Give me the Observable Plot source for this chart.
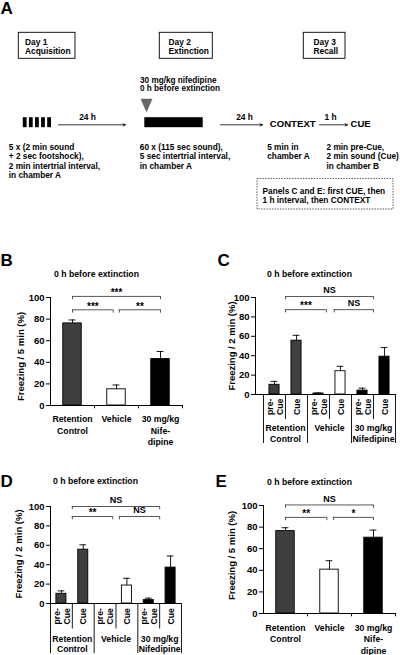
<!DOCTYPE html>
<html><head><meta charset="utf-8">
<script src="https://cdn.jsdelivr.net/npm/d3@7"></script>
<script src="https://cdn.jsdelivr.net/npm/@observablehq/plot@0.6"></script>
<style>
html,body{margin:0;padding:0;background:#fff;}
#fig{position:relative;width:400px;height:655px;overflow:hidden;background:#fff;}
.panel{position:absolute;}
</style></head><body><div id="fig"></div>
<script>
const FONT = "'Liberation Sans', Arial, Helvetica, sans-serif";

// ---------------- data ----------------
const groupLabels3 = ["Retention\nControl", "Vehicle", "30 mg/kg\nNife-\ndipine"];
const groupLabelsCD = ["Retention\nControl", "Vehicle", "30 mg/kg\nNifedipine"];
const cellLabels = ["pre-\nCue", "Cue", "pre-\nCue", "Cue", "pre-\nCue", "Cue"];
const cellGroup = [0, 0, 1, 1, 2, 2];
const yTicks = [0, 20, 40, 60, 80, 100];

const meanB = [76, 15, 43];
const semB = [3.2, 4, 7];
const meanC = [10, 55.5, 1, 24, 4, 39];
const semC = [3.5, 5.5, 0.5, 5, 2.5, 9.5];
const meanD = [10, 55.5, 0, 18.5, 3.5, 37];
const semD = [3, 5, 0, 7.5, 2, 12];
const meanE = [76.3, 40.6, 70.2];
const semE = [3.1, 8.3, 7];

const sigB = [{from: 0, to: 2, label: "***"}, {from: 0, to: 1, label: "***"}, {from: 1, to: 2, label: "**"}];
const sigC = [{from: 1, to: 5, label: "NS"}, {from: 1, to: 3, label: "***"}, {from: 3, to: 5, label: "NS"}];
const sigD = [{from: 1, to: 5, label: "NS"}, {from: 1, to: 3, label: "**"}, {from: 3, to: 5, label: "NS"}];
const sigE = [{from: 0, to: 2, label: "NS"}, {from: 0, to: 1, label: "**"}, {from: 1, to: 2, label: "*"}];

const titleText = "0 h before extinction";
const yLabel5 = "Freezing / 5 min (%)";
const yLabel2 = "Freezing / 2 min (%)";

// panel A texts
const dayLabels = ["Day 1\nAcquisition", "Day 2\nExtinction", "Day 3\nRecall"];
const protocolNotes = [
  "5 x (2 min sound\n+ 2 sec footshock),\n2 min intertrial interval,\nin chamber A",
  "60 x (115 sec sound),\n5 sec intertrial interval,\nin chamber A",
  "5 min in\nchamber A",
  "2 min pre-Cue,\n2 min sound (Cue)\nin chamber B"
];
const intervals = ["24 h", "24 h", "1 h"];
const phases = ["CONTEXT", "CUE"];
const drugNote = "30 mg/kg nifedipine\n0 h before extinction";
const orderNote = "Panels C and E: first CUE, then\n1 h interval, then CONTEXT";

// ---------------- styles ----------------
const groupFill = ["#3e3e3e", "#ffffff", "#000000"];
const fig = document.getElementById("fig");
function place(node, left, top) {
  const div = document.createElement("div");
  div.className = "panel";
  div.style.left = left + "px";
  div.style.top = top + "px";
  div.appendChild(node);
  fig.appendChild(div);
}

// ---------------- panel A (schematic) ----------------
const layoutA = {
  boxes: [{x1: 18.3, x2: 75, y1: 32.3, y2: 58.3, tx: 24.5}, {x1: 159.3, x2: 212.3, y1: 32.3, y2: 58.3, tx: 168}, {x1: 303.3, x2: 345, y1: 32.3, y2: 58.3, tx: 313}],
  notes: [{x: 8.3, y: 143.3}, {x: 139.3, y: 143.3}, {x: 266.7, y: 143.3}, {x: 326, y: 143.3}],
  arrows: [{x1: 58, x2: 125, y: 124.3, tx: 87}, {x1: 220, x2: 262, y: 124.3, tx: 244}, {x1: 319, x2: 347, y: 124.3, tx: 330}],
  phases: [{x: 269.3, y: 123.3}, {x: 350, y: 123.3}],
  stripes: [0, 1, 2, 3, 4].map(k => ({x1: 22.8 + k * 6.1, x2: 26.6 + k * 6.1, y1: 117.2, y2: 127.2})),
  block: {x1: 144.3, x2: 202.7, y1: 117.2, y2: 127.2},
  triangle: [{x: 140, y: 98.3}, {x: 152, y: 98.3}, {x: 146, y: 112}, {x: 140, y: 98.3}],
  dashed: {x1: 257, x2: 393, y1: 178.5, y2: 209},
};
const chartA = Plot.plot({
  width: 400, height: 245, margin: 0,
  x: {type: "identity", axis: null}, y: {type: "identity", axis: null},
  style: {fontFamily: FONT, fontWeight: "bold", background: "transparent", overflow: "visible"},
  marks: [
    Plot.text(["A"], {x: () => 0, y: () => 8, textAnchor: "start", lineAnchor: "middle", fontSize: 17, fontWeight: "bold"}),
    Plot.rect(layoutA.boxes, {x1: "x1", x2: "x2", y1: "y1", y2: "y2", fill: "none", stroke: "#000", strokeWidth: 0.9}),
    Plot.text(dayLabels, {x: (d, i) => layoutA.boxes[i].tx, y: () => 38.6, textAnchor: "start", lineAnchor: "top", lineHeight: 1.07, fontSize: 8.4}),
    Plot.text(drugNote.split("\n"), {x: () => 139.5, y: (d, i) => 80 + i * 8.3, textAnchor: "start", lineAnchor: "middle", fontSize: 8.2}),
    Plot.line(layoutA.triangle, {x: "x", y: "y", fill: "#666", stroke: "none"}),
    Plot.rect(layoutA.stripes, {x1: "x1", x2: "x2", y1: "y1", y2: "y2", fill: "#000"}),
    Plot.rect([layoutA.block], {x1: "x1", x2: "x2", y1: "y1", y2: "y2", fill: "#000"}),
    Plot.arrow(layoutA.arrows, {x1: "x1", x2: "x2", y1: "y", y2: "y", stroke: "#000", strokeWidth: 0.8, headLength: 5, headAngle: 50}),
    Plot.text(intervals, {x: (d, i) => layoutA.arrows[i].tx, y: () => 117, lineAnchor: "middle", fontSize: 8.4}),
    Plot.text(phases, {x: (d, i) => layoutA.phases[i].x, y: (d, i) => layoutA.phases[i].y, textAnchor: "start", lineAnchor: "middle", fontSize: 9.6}),
    Plot.text(protocolNotes, {x: (d, i) => layoutA.notes[i].x, y: (d, i) => layoutA.notes[i].y, textAnchor: "start", lineAnchor: "top", lineHeight: 1.1, fontSize: 8.3}),
    Plot.rect([layoutA.dashed], {x1: "x1", x2: "x2", y1: "y1", y2: "y2", fill: "none", stroke: "#333", strokeWidth: 0.8, strokeDasharray: "1.5,1.2"}),
    Plot.text([orderNote], {x: () => 262, y: () => 187, textAnchor: "start", lineAnchor: "top", lineHeight: 1.08, fontSize: 8.3}),
  ]
});
place(chartA, 0, 0);

// ---------------- bar panels ----------------
function barPanel(cfg) {
  const fw = cfg.width - cfg.ml - cfg.mr;
  const fh = cfg.height - cfg.mt - cfg.mb;
  const pxX = fw / (cfg.xDomain[1] - cfg.xDomain[0]);
  const pxY = fh / 100;
  const rows = cfg.means.map((m, i) => ({i, m, s: cfg.sems[i], fill: groupFill[cfg.groupOf(i)]}));
  const cx = d => d.i + 0.5;
  const half = cfg.barW / 2;
  const cap = 3.4 / pxX;
  const tick = 3.3 / pxY;
  const br = cfg.sig.map((b, k) => ({
    x1: b.from + cfg.anchor + (b.from === cfg.mid ? cfg.gapR : 0),
    x2: b.to + cfg.anchor - (b.to === cfg.mid ? cfg.gapL : 0),
    level: k === 0 ? cfg.levels[0] : cfg.levels[1],
    label: b.label
  }));
  const ends = br.flatMap(b => [{x: b.x1, level: b.level}, {x: b.x2, level: b.level}]);
  const stars = br.filter(b => b.label.startsWith("*"));
  const ns = br.filter(b => !b.label.startsWith("*"));
  const bold = {fontWeight: "bold"};
  const marks = [
    Plot.rect(rows.filter(d => d.m > 0), {x1: d => cx(d) - half, x2: d => cx(d) + half, y1: () => 0, y2: "m", fill: "fill", stroke: "#000", strokeWidth: 0.9}),
    Plot.ruleX(rows.filter(d => d.s > 0), {x: cx, y1: "m", y2: d => d.m + d.s, stroke: "#000", strokeWidth: 0.9}),
    Plot.ruleY(rows.filter(d => d.s > 0), {y: d => d.m + d.s, x1: d => cx(d) - cap, x2: d => cx(d) + cap, stroke: "#000", strokeWidth: 0.9}),
    Plot.ruleY([0], {stroke: "#000", strokeWidth: 1}),
    Plot.ruleX([cfg.xDomain[0]], {y1: () => 0, y2: () => 100, stroke: "#000", strokeWidth: 1}),
    Plot.axisY({ticks: yTicks, tickSize: 4, tickPadding: 2, label: null, tickFormat: d => String(d), fontSize: 9.5, fontWeight: "bold"}),
    // significance brackets
    Plot.ruleY(br, {y: "level", x1: "x1", x2: "x2", stroke: "#444", strokeWidth: 0.9}),
    Plot.ruleX(ends, {x: "x", y1: d => d.level - tick, y2: "level", stroke: "#444", strokeWidth: 0.9}),
    Plot.text(stars, {x: d => (d.x1 + d.x2) / 2, y: "level", text: "label", lineAnchor: "middle", dy: -3.5, fontSize: 10, ...bold}),
    Plot.text(ns, {x: d => (d.x1 + d.x2) / 2, y: "level", text: "label", lineAnchor: "middle", dy: -6.2, fontSize: 9, ...bold}),
    // headings
    Plot.text([cfg.letter], {frameAnchor: "top-left", dx: cfg.letterDx, dy: cfg.letterDy, textAnchor: "start", lineAnchor: "middle", fontSize: 17, ...bold}),
    Plot.text([titleText], {frameAnchor: "top", dx: cfg.titleDx, dy: cfg.titleDy, textAnchor: "middle", lineAnchor: "middle", fontSize: 8.7, ...bold}),
    Plot.text([cfg.yLabel], {frameAnchor: "left", rotate: -90, dx: cfg.yLabelDx, dy: cfg.yLabelDy, textAnchor: "middle", lineAnchor: "middle", fontSize: 9.5, ...bold}),
  ];
  if (cfg.kind === "three") {
    marks.push(
      Plot.ruleX([1, 2, 3], {y1: () => 0, y2: () => -tick, stroke: "#000", strokeWidth: 1}),
      Plot.text(groupLabels3, {x: (d, i) => i + 0.5, frameAnchor: "bottom", dy: cfg.labelDy, textAnchor: "middle", lineAnchor: "top", lineHeight: 1.33, fontSize: 8.7, ...bold})
    );
  } else {
    marks.push(
      Plot.ruleX(d3.range(7), {y1: () => 0, y2: x => -(x % 2 === 0 ? cfg.groupLine : cfg.cellLine) / pxY, stroke: "#000", strokeWidth: 0.9}),
      Plot.text(cellLabels, {x: (d, i) => i + 0.5, frameAnchor: "bottom", dy: cfg.cellDy, rotate: -90, textAnchor: "start", lineAnchor: "middle", lineHeight: 1.15, fontSize: 8.7, ...bold}),
      Plot.text(groupLabelsCD, {x: (d, i) => 2 * i + 1, frameAnchor: "bottom", dy: cfg.groupDy, textAnchor: "middle", lineAnchor: "top", lineHeight: 1.22, fontSize: 8.7, ...bold})
    );
  }
  const chart = Plot.plot({
    width: cfg.width, height: cfg.height,
    marginLeft: cfg.ml, marginRight: cfg.mr, marginTop: cfg.mt, marginBottom: cfg.mb,
    x: {domain: cfg.xDomain, axis: null},
    y: {domain: [0, 100], axis: null},
    color: {type: "identity"},
    style: {fontFamily: FONT, fontWeight: "bold", fontSize: "9.5px", background: "transparent", overflow: "visible"},
    marks
  });
  place(chart, cfg.left, cfg.top);
}

barPanel({letter: "B", kind: "three", left: 0, top: 245, width: 200, height: 205, ml: 50, mr: 18, mt: 52, mb: 45,
  xDomain: [0, 3], means: meanB, sems: semB, groupOf: i => i, barW: 0.42,
  sig: sigB, anchor: 0.5, mid: 1, gapL: 0.075, gapR: 0.065, levels: [101, 88.6],
  letterDx: -50, letterDy: -37, titleDx: -20, titleDy: -23, yLabel: yLabel5, yLabelDx: -30, yLabelDy: 5, labelDy: 8.5});

barPanel({letter: "C", kind: "six", left: 200, top: 245, width: 200, height: 205, ml: 55, mr: 5, mt: 52, mb: 56,
  xDomain: [-0.3636, 6], means: meanC, sems: semC, groupOf: i => cellGroup[i], barW: 0.46,
  sig: sigC, anchor: 0, mid: 3, gapL: 0.14, gapR: 0.22, levels: [101, 87.5],
  letterDx: -38, letterDy: -36.5, titleDx: -16, titleDy: -23, yLabel: yLabel2, yLabelDx: -23.5, yLabelDy: 0,
  cellDy: 20.5, groupDy: 29, cellLine: 25, groupLine: 49});

barPanel({letter: "D", kind: "six", left: 0, top: 455, width: 200, height: 200, ml: 50, mr: 19, mt: 51, mb: 52,
  xDomain: [0, 6], means: meanD, sems: semD, groupOf: i => cellGroup[i], barW: 0.46,
  sig: sigD, anchor: 0, mid: 3, gapL: 0.15, gapR: 0.16, levels: [100, 89.7],
  letterDx: -50, letterDy: -25, titleDx: -20.5, titleDy: -25, yLabel: yLabel2, yLabelDx: -32, yLabelDy: -1,
  cellDy: 21, groupDy: 30.5, cellLine: 25.5, groupLine: 50});

barPanel({letter: "E", kind: "three", left: 200, top: 455, width: 200, height: 200, ml: 63, mr: 5, mt: 50, mb: 42,
  xDomain: [0, 3], means: meanE, sems: semE, groupOf: i => i, barW: 0.42,
  sig: sigE, anchor: 0.5, mid: 1, gapL: 0.06, gapR: 0.09, levels: [100.5, 89],
  letterDx: -48, letterDy: -24, titleDx: -20, titleDy: -23.5, yLabel: yLabel5, yLabelDx: -32, yLabelDy: -4, labelDy: 9});
</script></body></html>
